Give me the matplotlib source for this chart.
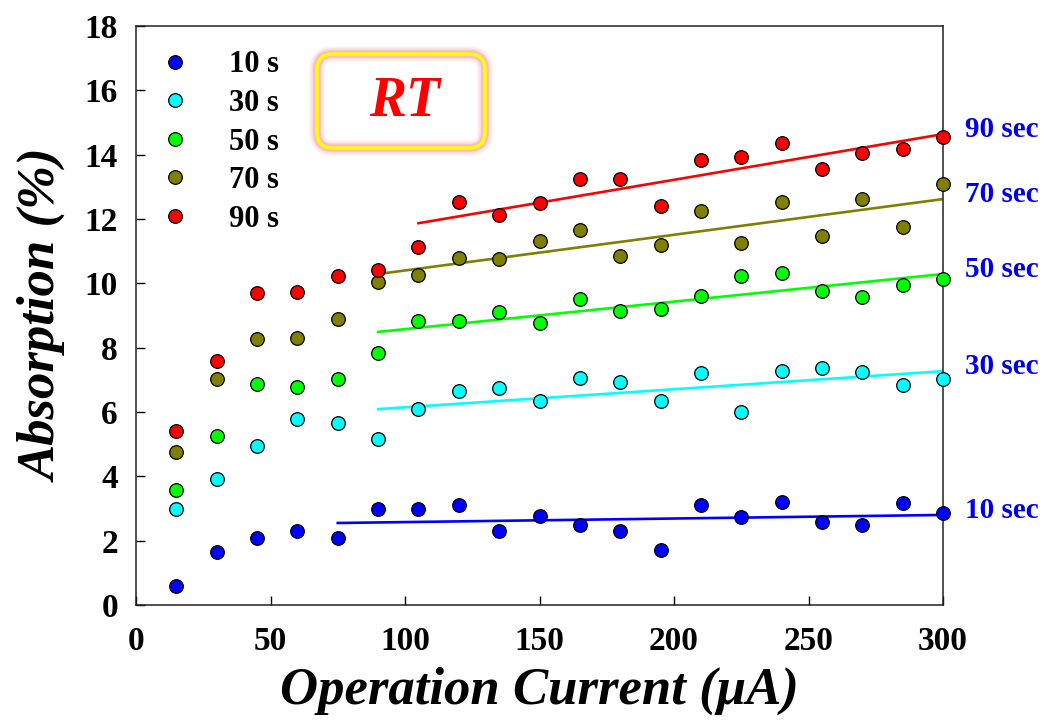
import matplotlib
matplotlib.use("Agg")
import matplotlib.pyplot as plt
import numpy as np
from matplotlib.patches import FancyBboxPatch

plt.rcParams["font.family"] = ["Liberation Serif", "DejaVu Serif"]
plt.rcParams["font.weight"] = "bold"

current = np.arange(15, 301, 15)

abs_10s = [0.6, 1.65, 2.08, 2.3, 2.08, 2.98, 2.98, 3.1, 2.3, 2.77,
           2.49, 2.3, 1.71, 3.1, 2.73, 3.2, 2.58, 2.49, 3.17, 2.86]
abs_30s = [2.98, 3.92, 4.94, 5.78, 5.66, 5.16, 6.09, 6.65, 6.75, 6.34,
           7.05, 6.93, 6.34, 7.21, 6.0, 7.27, 7.37, 7.24, 6.84, 7.02]
abs_50s = [3.57, 5.25, 6.87, 6.78, 7.03, 7.83, 8.83, 8.83, 9.1, 8.77,
           9.51, 9.14, 9.2, 9.6, 10.23, 10.32, 9.76, 9.57, 9.95, 10.13]
abs_70s = [4.76, 7.03, 8.27, 8.3, 8.89, 10.04, 10.26, 10.79, 10.76, 11.31,
           11.66, 10.85, 11.19, 12.25, 11.25, 12.53, 11.47, 12.62, 11.75, 13.09]
abs_90s = [5.41, 7.58, 9.7, 9.73, 10.23, 10.41, 11.13, 12.53, 12.12, 12.5,
           13.24, 13.24, 12.4, 13.83, 13.93, 14.36, 13.55, 14.05, 14.17, 14.55]

series = [abs_10s, abs_30s, abs_50s, abs_70s, abs_90s]
legend_labels = ["10 s", "30 s", "50 s", "70 s", "90 s"]
tag_labels = ["10 sec", "30 sec", "50 sec", "70 sec", "90 sec"]
colors = ["#0000FF", "#00FFFF", "#00FF00", "#808000", "#FF0000"]

# linear trend segments: start current, value at start, value at 300 uA
fit_start = [75, 90, 90, 90, 105]
fit_end = 300
fit_y0 = [2.55, 6.09, 8.49, 10.29, 11.87]
fit_y1 = [2.80, 7.27, 10.29, 12.62, 14.64]

fig = plt.figure(figsize=(10.44, 7.27), dpi=100)
ax = fig.add_axes([0.1303, 0.1678, 0.773, 0.7964])

for i, col in enumerate(colors):
    ax.plot([fit_start[i], fit_end], [fit_y0[i], fit_y1[i]], color=col, lw=1.9, zorder=2)

for vals, col, lab in zip(series, colors, legend_labels):
    ax.plot(current, vals, "o", ms=9.8, mfc=col, mec="black", mew=0.9,
            label=lab, zorder=3, clip_on=False)

for y1, tag in zip(fit_y1, tag_labels):
    ax.annotate(tag, xy=(fit_end, y1), xytext=(16, 3), textcoords="offset points",
                ha="left", va="center", color="#0000EE", fontsize=21,
                fontweight="bold", annotation_clip=False)

ax.set_xlim(0, 300)
ax.set_ylim(0, 18)
ax.set_xticks(np.arange(0, 301, 50))
ax.set_yticks(np.arange(0, 19, 2))
ax.tick_params(axis="both", direction="in", length=6.5, width=1.0,
               labelsize=24, top=False, right=False)
ax.tick_params(axis="y", pad=13)
ax.tick_params(axis="x", pad=15)
for lab in ax.get_xticklabels() + ax.get_yticklabels():
    lab.set_fontweight("bold")
for sp in ax.spines.values():
    sp.set_linewidth(1.1)
    sp.set_color("#222222")

ax.set_xlabel("Operation Current (μA)", fontsize=38, fontweight="bold",
              fontstyle="italic", labelpad=7)
ax.set_ylabel("Absorption (%)", fontsize=38, fontweight="bold",
              fontstyle="italic", labelpad=12)

leg = ax.legend(loc="upper left", frameon=False, fontsize=22, handletextpad=0.75,
                labelspacing=0.315, borderaxespad=0.3, bbox_to_anchor=(-0.016, 0.995))
for t in leg.get_texts():
    t.set_fontweight("bold")

# "RT" badge: yellow rounded frame with a soft pink glow, sized in inches
box_kw = dict(boxstyle="round,pad=0,rounding_size=0.16", transform=fig.dpi_scale_trans,
              facecolor="none", zorder=5)
bx, by, bw, bh = 3.17, 5.79, 1.68, 0.94
for lw, alpha in [(11, 0.12), (8, 0.18), (5.5, 0.3)]:
    fig.patches.append(FancyBboxPatch((bx, by), bw, bh, edgecolor="#F08080",
                                      linewidth=lw, alpha=alpha, **box_kw))
fig.patches.append(FancyBboxPatch((bx, by), bw, bh, edgecolor="#FFFF00",
                                  linewidth=2.4, **box_kw))
fig.text(4.05, 7.27 - 1.02, "RT", transform=fig.dpi_scale_trans, color="#FF0000",
         fontsize=40, fontweight="bold", fontstyle="italic", ha="center", va="center")

fig.savefig("out.png", dpi=100, facecolor="white")
